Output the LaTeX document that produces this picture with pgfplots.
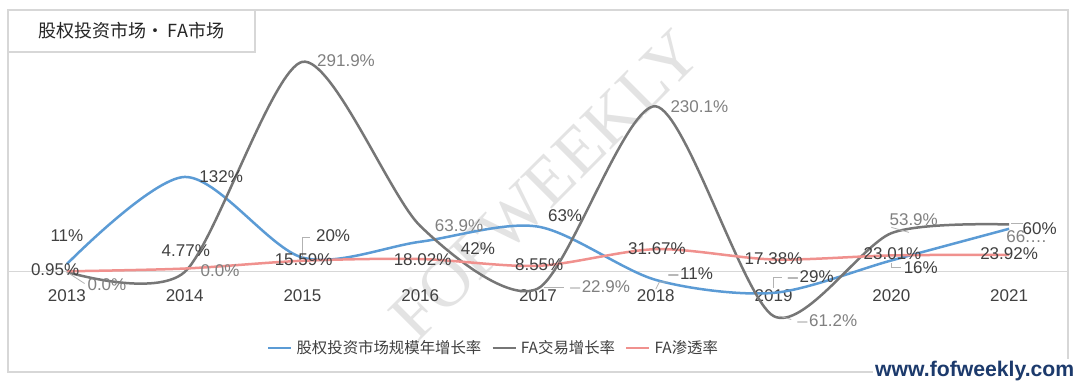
\documentclass[border=0pt]{standalone}
\usepackage{pgfplots}
\pgfplotsset{compat=1.18}
\usepackage{fontspec}
\setmainfont{Liberation Sans}
\newfontfamily\cjk{Noto Sans CJK SC}
\newfontfamily\wm{Liberation Serif}
\definecolor{cblue}{RGB}{91,155,213}
\definecolor{cgray}{RGB}{118,118,118}
\definecolor{cpink}{RGB}{240,145,142}
\definecolor{framecol}{RGB}{215,215,215}
\definecolor{labd}{RGB}{64,64,64}
\definecolor{labl}{RGB}{128,128,128}
\definecolor{wwwcol}{RGB}{28,58,108}
\begin{document}
\begin{tikzpicture}[x=1pt,y=1pt]
\useasboundingbox (-4pt,-5.5pt) rectangle (536pt,186pt);
\fill[white] (-4pt,-5.5pt) rectangle (536pt,186pt);
% watermark (behind everything)
\node[rotate=45, text=black!11, font=\wm\fontsize{34}{34}\selectfont] at (268.5pt,93.5pt) {FOFWEEKLY};
\begin{axis}[
  at={(0,0)}, anchor=south west,
  scale only axis, width=530pt, height=181pt,
  xmin=-0.5, xmax=8.5, ymin=-138.9, ymax=363.9,
  axis x line=middle, axis y line=none,
  x axis line style={-, draw=framecol, line width=0.5pt},
  xtick={0,...,8},
  xticklabels={2013,2014,2015,2016,2017,2018,2019,2020,2021},
  major tick length=0pt,
  ytick=\empty,
  x tick label style={font=\fontsize{8.5}{10}\selectfont, text=labd, yshift=-5.5pt},
  clip=false,
  legend style={at={(0.459,0.066)}, anchor=center, draw=none, fill=none,
    font=\cjk\fontsize{7.7}{9}\selectfont, text=labd,
    /tikz/every even column/.append style={column sep=3pt}},
  legend columns=3,
  legend image code/.code={\draw[#1,line width=1.25pt] (0pt,0pt) -- (11.5pt,0pt);},
]
% frame
\draw[framecol, line width=0.6pt] (rel axis cs:0,0) rectangle (rel axis cs:1,1);
% title box
\draw[framecol, line width=0.6pt, fill=white] (rel axis cs:0,1) rectangle (rel axis cs:0.233,0.884);
\node[font=\cjk\fontsize{9}{11}\selectfont, text=black!85] at (rel axis cs:0.1165,0.942) {股权投资市场·\,FA市场};

\addplot[cblue, line width=1.25pt, smooth, tension=0.5] coordinates {
 (0,11) (1,132) (2,20) (3,42) (4,63) (5,-11) (6,-29) (7,16) (8,60)};
\addlegendentry{股权投资市场规模年增长率}
\addplot[cgray, line width=1.25pt, smooth, tension=0.45] coordinates {
 (0,0) (1,0) (2,291.9) (3,63.9) (4,-22.9) (5,230.1) (6,-61.2) (7,53.9) (8,66)};
\addlegendentry{FA交易增长率}
\addplot[cpink, line width=1.25pt, smooth, tension=0.5] coordinates {
 (0,0.95) (1,4.77) (2,15.59) (3,18.02) (4,8.55) (5,31.67) (6,17.38) (7,23.01) (8,23.92)};
\addlegendentry{FA渗透率}

% leader lines
\draw[black!30, line width=0.4pt] (axis cs:0,0) -- (axis cs:0.15,-16);
\draw[black!30, line width=0.4pt] (axis cs:2,20) -- (axis cs:2,48) -- (axis cs:2.06,48);
\draw[black!30, line width=0.4pt] (axis cs:4.05,-21) -- (axis cs:4.22,-21);
\draw[black!30, line width=0.4pt] (axis cs:5,-24) -- (axis cs:5.03,-14) -- (axis cs:5.1,-14);
\draw[black!30, line width=0.4pt] (axis cs:6,-22) -- (axis cs:6,-8) -- (axis cs:6.07,-8);
\draw[black!30, line width=0.4pt] (axis cs:6.05,-61.2) -- (axis cs:6.15,-66);
\draw[black!30, line width=0.4pt] (axis cs:7.0,62) -- (axis cs:7.15,55);
\draw[black!30, line width=0.4pt] (axis cs:7,12) -- (axis cs:7,6) -- (axis cs:7.08,6);
\draw[black!30, line width=0.4pt] (axis cs:8.02,67) -- (axis cs:8.12,67);

% data labels
\begin{scope}[every node/.style={font=\fontsize{8.5}{10}\selectfont, inner sep=0pt}]
\node[text=labd] at (axis cs:0.0,50) {11\%};
\node[text=labd] at (axis cs:-0.10,2.8) {0.95\%};
\node[text=labl] at (axis cs:0.34,-18) {0.0\%};
\node[text=labd] at (axis cs:1.01,29) {4.77\%};
\node[text=labl] at (axis cs:1.30,1.4) {0.0\%};
\node[text=labd] at (axis cs:1.31,132) {132\%};
\node[text=labl] at (axis cs:2.37,293) {291.9\%};
\node[text=labd] at (axis cs:2.26,51) {20\%};
\node[text=labd] at (axis cs:2.01,17) {15.59\%};
\node[text=labl] at (axis cs:3.33,65) {63.9\%};
\node[text=labd] at (axis cs:3.49,32) {42\%};
\node[text=labd] at (axis cs:3.02,17) {18.02\%};
\node[text=labd] at (axis cs:4.23,78) {63\%};
\node[text=labd] at (axis cs:4.01,10) {8.55\%};
\node[text=labl] at (axis cs:4.52,-21) {$-$22.9\%};
\node[text=labd] at (axis cs:5.01,32) {31.67\%};
\node[text=labd] at (axis cs:5.29,-3) {$-$11\%};
\node[text=labl] at (axis cs:5.37,230) {230.1\%};
\node[text=labd] at (axis cs:6.00,18) {17.38\%};
\node[text=labd] at (axis cs:6.31,-7) {$-$29\%};
\node[text=labl] at (axis cs:6.45,-69) {$-$61.2\%};
\node[text=labl] at (axis cs:7.19,72) {53.9\%};
\node[text=labd] at (axis cs:7.01,25) {23.01\%};
\node[text=labd] at (axis cs:7.25,5.6) {16\%};
\node[text=labl] at (axis cs:8.15,49) {66.…};
\node[text=labd] at (axis cs:8.26,60) {60\%};
\node[text=labd] at (axis cs:8.0,26) {23.92\%};
\end{scope}

% website
\node[fill=white, inner sep=1pt, font=\bfseries\fontsize{10.6}{12}\selectfont, text=wwwcol] at (rel axis cs:0.912,0.003) {www.fofweekly.com};
\end{axis}
\end{tikzpicture}
\end{document}
